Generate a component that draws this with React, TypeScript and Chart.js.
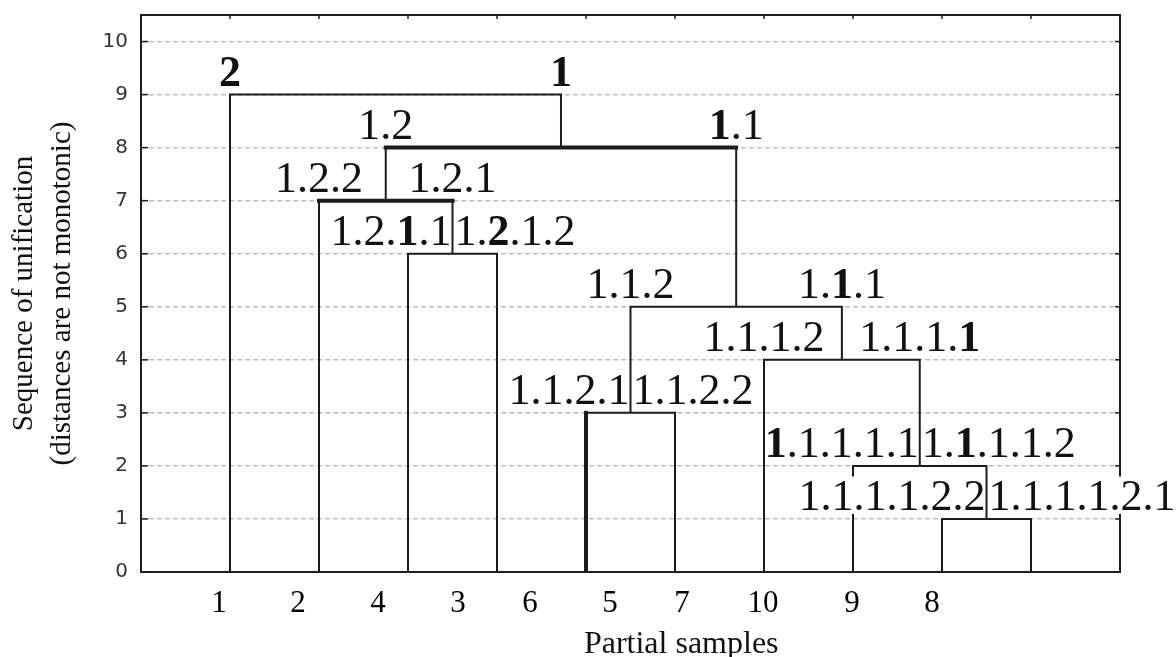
import React, { useEffect, useRef } from 'react';
import { Chart, registerables } from 'chart.js';

Chart.register(...registerables);

// ---------------- data ----------------
// leaf (partial sample) order along the axis
const LEAF_LABELS = ['1', '2', '4', '3', '6', '5', '7', '10', '9', '8'];
// merge steps: height (sequence of unification) and the two joined children
// children: sample name for a leaf, 'M<k>' for the k-th merge
const MERGE_HEIGHTS = [1, 2, 3, 4, 5, 6, 7, 8, 9];
const MERGE_LEFT = ['9', '10', '6', '7', 'M3', '4', '2', 'M7', '1'];
const MERGE_RIGHT = ['8', 'M1', '5', 'M2', 'M4', '3', 'M6', 'M5', 'M8'];
// cluster names written above each merge (a '*' marks a bold character)
const LEFT_NAMES = ['1.1.1.1.2.2', '*1.1.1.1.1', '1.1.2.1', '1.1.1.2', '1.1.2', '1.2.*1.1', '1.2.2', '1.2', '*2'];
const RIGHT_NAMES = ['1.1.1.1.2.1', '1.*1.1.1.2', '1.1.2.2', '1.1.1.*1', '1.*1.1', '1.*2.1.2', '1.2.1', '*1.1', '*1'];
const Y_TICKS = [0, 1, 2, 3, 4, 5, 6, 7, 8, 9, 10];
const Y_TITLE = ['Sequence of unification', '(distances are not monotonic)'];
const X_TITLE = 'Partial samples';

// ---------------- layout / style ----------------
const LABEL_MODE = ['flank', 'flank', 'flank', 'center', 'center', 'flank', 'center', 'center', 'center'];
const BOLD_PARTS: [string, 'l' | 'h' | 'r'][] = [['M8', 'h'], ['M7', 'h'], ['M3', 'l']];
const X_LABEL_SLOTS = [0.876, 1.764, 2.663, 3.562, 4.371, 5.27, 6.079, 6.989, 7.989, 8.888];
const X_TITLE_POS = 6.07;
const SERIF = '"Liberation Serif", "Times New Roman", serif';
const LINE = '#1c1c1c';

// ---------------- dendrogram geometry ----------------
function nodeX(id: string): number {
  if (id.startsWith('M')) {
    const i = parseInt(id.slice(1), 10) - 1;
    return (nodeX(MERGE_LEFT[i]) + nodeX(MERGE_RIGHT[i])) / 2;
  }
  return LEAF_LABELS.indexOf(id) + 1;
}
function nodeH(id: string): number {
  if (id.startsWith('M')) return MERGE_HEIGHTS[parseInt(id.slice(1), 10) - 1];
  return 0;
}

function mergeShape(i: number) {
  const l = MERGE_LEFT[i];
  const r = MERGE_RIGHT[i];
  const h = MERGE_HEIGHTS[i];
  return {
    xl: nodeX(l), hl: nodeH(l), xr: nodeX(r), hr: nodeH(r), h,
  };
}

function buildDatasets() {
  const ds: any[] = MERGE_HEIGHTS.map((_, i) => {
    const s = mergeShape(i);
    return {
      label: 'M' + (i + 1),
      data: [
        { x: s.xl, y: s.hl },
        { x: s.xl, y: s.h },
        { x: s.xr, y: s.h },
        { x: s.xr, y: s.hr },
      ],
      showLine: true,
      borderColor: LINE,
      borderWidth: 2,
      pointRadius: 0,
      fill: false,
      tension: 0,
      borderJoinStyle: 'miter',
    };
  });
  BOLD_PARTS.forEach(([id, part]) => {
    const s = mergeShape(parseInt(id.slice(1), 10) - 1);
    const data =
      part === 'h'
        ? [{ x: s.xl, y: s.h }, { x: s.xr, y: s.h }]
        : part === 'l'
        ? [{ x: s.xl, y: s.hl }, { x: s.xl, y: s.h }]
        : [{ x: s.xr, y: s.hr }, { x: s.xr, y: s.h }];
    ds.push({
      label: id + part,
      data,
      showLine: true,
      borderColor: LINE,
      borderWidth: 4,
      pointRadius: 0,
      fill: false,
      borderCapStyle: 'square',
    });
  });
  return ds;
}

function drawRich(ctx: CanvasRenderingContext2D, text: string, x: number, baseline: number, align: string, size: number) {
  const runs: { ch: string; bold: boolean }[] = [];
  for (let i = 0; i < text.length; i++) {
    if (text[i] === '*') {
      runs.push({ ch: text[i + 1], bold: true });
      i++;
    } else runs.push({ ch: text[i], bold: false });
  }
  const fontN = `${size}px ${SERIF}`;
  const fontB = `bold ${size}px ${SERIF}`;
  const widths = runs.map((r) => {
    ctx.font = r.bold ? fontB : fontN;
    return ctx.measureText(r.ch).width;
  });
  const total = widths.reduce((a, b) => a + b, 0);
  let sx = align === 'left' ? x : align === 'right' ? x - total : x - total / 2;
  ctx.fillStyle = '#ffffff';
  ctx.fillRect(sx + 3, baseline - size * 0.76, total - 6, size * 0.85);
  ctx.fillStyle = '#111111';
  ctx.textAlign = 'left';
  ctx.textBaseline = 'alphabetic';
  runs.forEach((r, i) => {
    ctx.font = r.bold ? fontB : fontN;
    ctx.fillText(r.ch, sx, baseline);
    sx += widths[i];
  });
}

const overlayPlugin = {
  id: 'dendroOverlay',
  afterDatasetsDraw(chart: any) {
    const { ctx, chartArea: a, scales } = chart;
    const xs = scales.x;
    const ys = scales.y;
    ctx.save();
    const seg = (x1: number, y1: number, x2: number, y2: number) => {
      ctx.beginPath();
      ctx.moveTo(x1, y1);
      ctx.lineTo(x2, y2);
      ctx.stroke();
    };
    // frame
    ctx.strokeStyle = '#1e1e1e';
    ctx.lineWidth = 2;
    ctx.strokeRect(a.left, a.top, a.right - a.left, a.bottom - a.top);
    // inner tick marks
    ctx.lineWidth = 1.5;
    Y_TICKS.forEach((v) => {
      const py = ys.getPixelForValue(v);
      seg(a.left, py, a.left + 7, py);
      seg(a.right, py, a.right - 5, py);
    });
    LEAF_LABELS.forEach((_, i) => {
      const px = xs.getPixelForValue(i + 1);
      seg(px, a.top, px, a.top + 4);
    });
    // cluster names
    const size = 44;
    MERGE_HEIGHTS.forEach((h, i) => {
      const s = mergeShape(i);
      const base = ys.getPixelForValue(h) - 9;
      if (LABEL_MODE[i] === 'center') {
        drawRich(ctx, LEFT_NAMES[i], xs.getPixelForValue(s.xl), base, 'center', size);
        drawRich(ctx, RIGHT_NAMES[i], xs.getPixelForValue(s.xr), base, 'center', size);
      } else {
        const nx = xs.getPixelForValue((s.xl + s.xr) / 2);
        drawRich(ctx, LEFT_NAMES[i], nx - 1, base, 'right', size);
        drawRich(ctx, RIGHT_NAMES[i], nx + 2, base, 'left', size);
      }
    });
    // x axis title
    ctx.font = `32px ${SERIF}`;
    ctx.fillStyle = '#111111';
    ctx.textAlign = 'center';
    ctx.textBaseline = 'alphabetic';
    ctx.fillText(X_TITLE, xs.getPixelForValue(X_TITLE_POS), a.bottom + 81);
    ctx.restore();
  },
};

export default function App() {
  const ref = useRef<HTMLCanvasElement>(null);
  useEffect(() => {
    const chart = new Chart(ref.current as HTMLCanvasElement, {
      type: 'scatter',
      data: { datasets: buildDatasets() },
      options: {
        animation: false,
        responsive: false,
        devicePixelRatio: 1,
        layout: { padding: { top: 15, right: 56, left: 0, bottom: 0 } },
        plugins: { legend: { display: false }, tooltip: { enabled: false } },
        scales: {
          x: {
            type: 'linear',
            min: 0,
            max: 11,
            grid: { display: false, drawTicks: false },
            border: { display: false },
            afterBuildTicks: (s: any) => {
              s.ticks = X_LABEL_SLOTS.map((v) => ({ value: v }));
            },
            afterFit: (s: any) => {
              s.height = 85;
              s.paddingLeft = 0;
              s.paddingRight = 0;
            },
            ticks: {
              autoSkip: false,
              maxRotation: 0,
              minRotation: 0,
              padding: 13,
              color: '#000',
              font: { family: SERIF, size: 31 },
              callback: (_v: any, i: number) => LEAF_LABELS[i],
            },
          },
          y: {
            type: 'linear',
            min: 0,
            max: 10.5,
            afterBuildTicks: (s: any) => {
              s.ticks = Y_TICKS.map((v) => ({ value: v }));
            },
            afterFit: (s: any) => {
              s.width = 141;
              s.paddingTop = 0;
              s.paddingBottom = 0;
            },
            grid: {
              drawTicks: false,
              lineWidth: 1.5,
              color: (c: any) => (c.tick && c.tick.value === 0 ? 'rgba(0,0,0,0)' : '#bdbdbd'),
            },
            border: { display: false, dash: [5, 3] },
            ticks: {
              padding: 13,
              color: '#333',
              font: { family: '"DejaVu Sans", sans-serif', size: 20 },
              callback: (v: any) => String(v),
            },
            title: {
              display: true,
              text: Y_TITLE,
              color: '#111',
              font: { family: SERIF, size: 29, lineHeight: 1.3 },
              padding: { top: 6, bottom: 0 },
            },
          },
        },
      },
      plugins: [overlayPlugin],
    } as any);
    return () => chart.destroy();
  }, []);
  return (
    <div style={{ position: 'absolute', left: 0, top: 0, width: 1176, height: 657, background: '#fff' }}>
      <canvas ref={ref} width={1176} height={657} style={{ display: 'block' }} />
    </div>
  );
}
